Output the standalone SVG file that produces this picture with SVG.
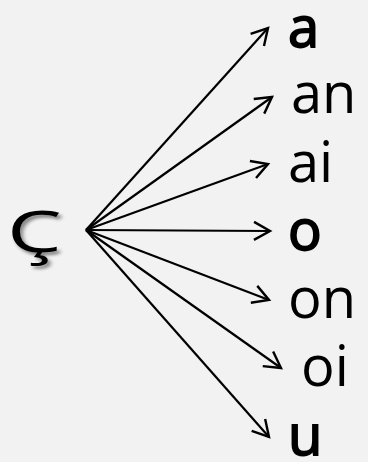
<svg xmlns="http://www.w3.org/2000/svg" width="368" height="462" viewBox="0 0 368 462">
<defs>
<style>
.lbl{font-family:"Open Sans","Liberation Sans",sans-serif;font-size:56px;fill:#000}
.b{stroke:#000;stroke-width:1.8}
.edge{stroke:#000;stroke-width:2.2;fill:none;marker-end:url(#ah)}
</style>
<marker id="ah" markerUnits="userSpaceOnUse" markerWidth="24" markerHeight="24" viewBox="-20 -12 24 24" refX="0" refY="0" orient="auto">
<path d="M-16,-9 L0,0 L-16,9" fill="none" stroke="#000" stroke-width="2.4" stroke-linejoin="miter"/>
</marker>
<filter id="sh" x="-20%" y="-20%" width="150%" height="150%">
<feGaussianBlur in="SourceAlpha" stdDeviation="1.5"/>
<feOffset dx="2" dy="3" result="o"/>
<feComponentTransfer><feFuncA type="linear" slope="0.45"/></feComponentTransfer>
<feMerge><feMergeNode/><feMergeNode in="SourceGraphic"/></feMerge>
</filter>
</defs>
<rect width="368" height="462" fill="#f2f2f2"/>
<g id="edges">
<line class="edge" x1="86" y1="230" x2="268" y2="28"/>
<line class="edge" x1="86" y1="230" x2="272" y2="97"/>
<line class="edge" x1="86" y1="230" x2="268" y2="164"/>
<line class="edge" x1="86" y1="230" x2="270" y2="231"/>
<line class="edge" x1="86" y1="230" x2="269" y2="300"/>
<line class="edge" x1="86" y1="230" x2="281" y2="368"/>
<line class="edge" x1="86" y1="230" x2="269" y2="437"/>
</g>
<g id="n-c"><text class="lbl" x="7" y="252" font-size="58" filter="url(#sh)" transform="translate(7 0) scale(1.55 1) translate(-7 0)">Ç</text></g>
<g id="n-a"><text class="lbl b" x="288" y="47">a</text></g>
<g id="n-an"><text class="lbl" x="291" y="113">an</text></g>
<g id="n-ai"><text class="lbl" x="288" y="182">ai</text></g>
<g id="n-o"><text class="lbl b" x="288" y="250">o</text></g>
<g id="n-on"><text class="lbl" x="288" y="318">on</text></g>
<g id="n-oi"><text class="lbl" x="301" y="386">oi</text></g>
<g id="n-u"><text class="lbl b" x="288" y="455">u</text></g>
</svg>
